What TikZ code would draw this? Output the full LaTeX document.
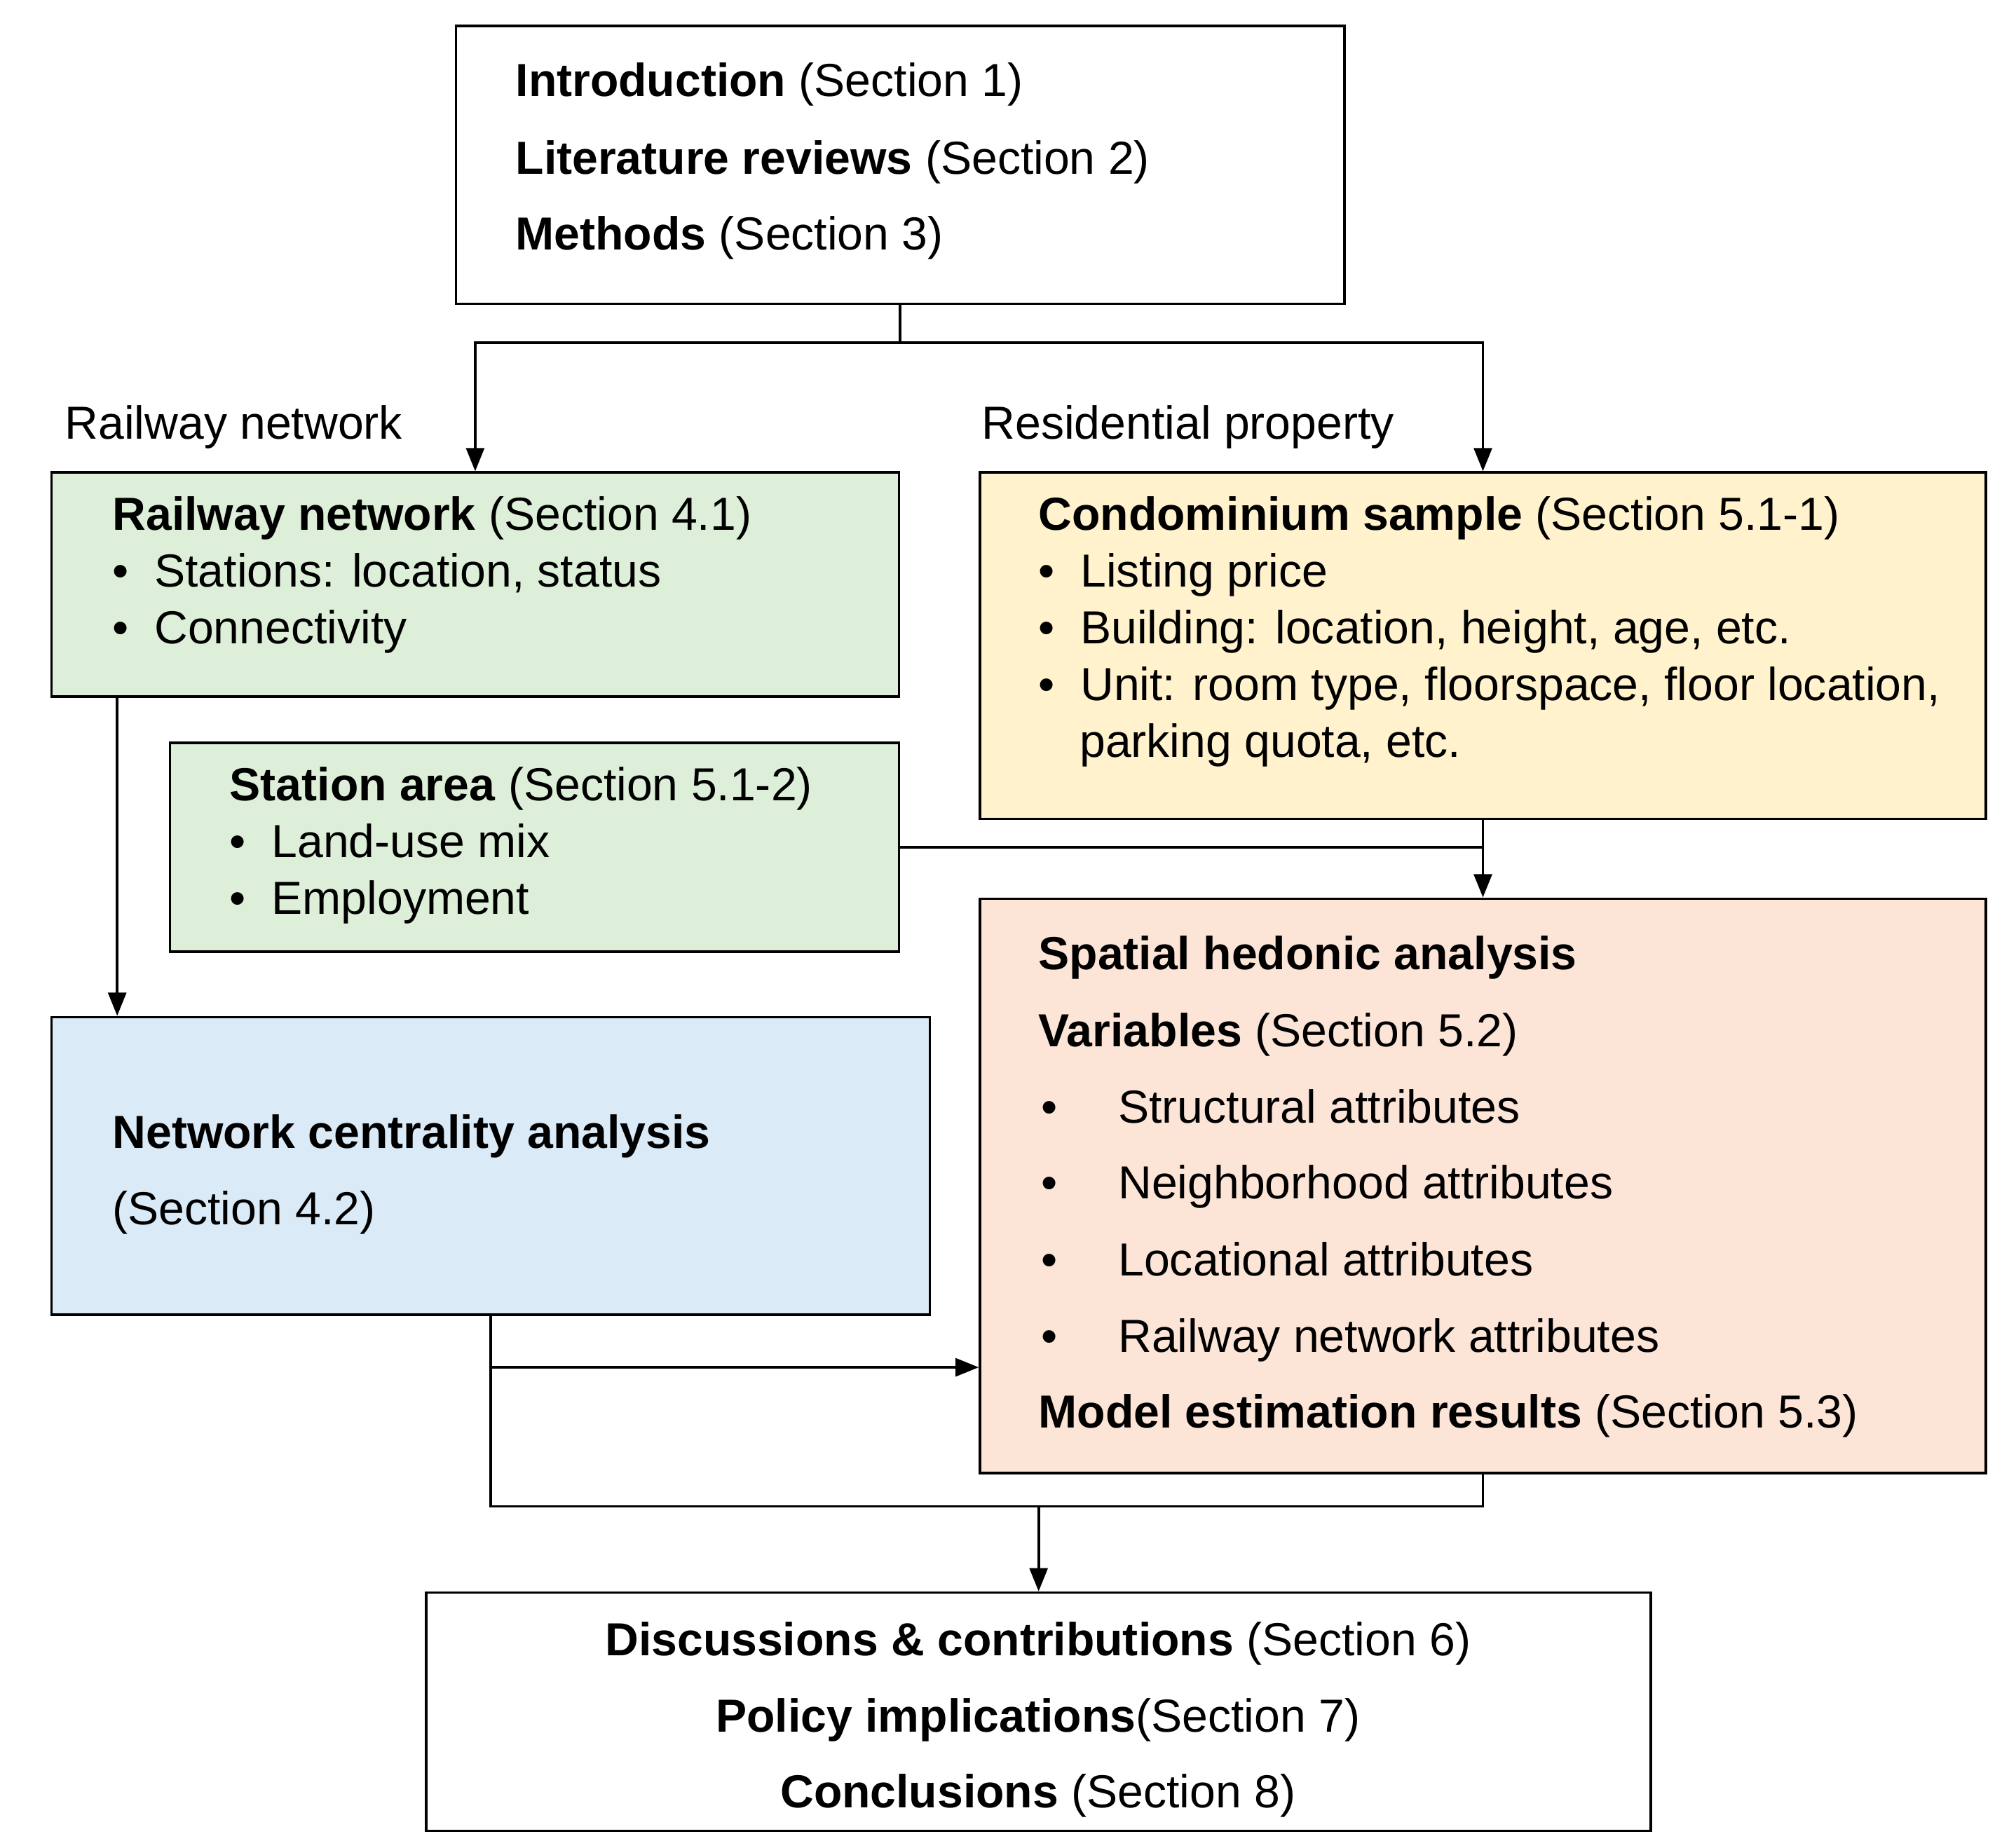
\documentclass[tikz,border=0pt]{standalone}
\usepackage{fontspec}
\setmainfont{Liberation Sans}
\usetikzlibrary{arrows.meta,calc}
\definecolor{greenbox}{RGB}{221,239,216}
\definecolor{yellowbox}{RGB}{255,242,204}
\definecolor{bluebox}{RGB}{218,234,247}
\definecolor{orangebox}{RGB}{252,228,214}
\tikzset{
  box/.style={draw, line width=1pt, inner sep=0pt},
  txt/.style={anchor=west, inner sep=0pt, text height=13pt, text depth=4pt, font=\fontsize{18}{21}\selectfont},
  ctxt/.style={anchor=center, inner sep=0pt, text height=13pt, text depth=4pt, font=\fontsize{18}{21}\selectfont},
  link/.style={line width=1pt},
  arr/.style={link, -{Triangle[length=9pt,width=7pt]}}
}
\begin{document}
\begin{tikzpicture}[x=0.5pt,y=-0.5pt]
\useasboundingbox (0,0) rectangle (1560,1435);

% boxes
\node[box, minimum width=345pt, minimum height=108pt] (top) at (699,128) {};
\node[box, fill=greenbox, minimum width=329pt, minimum height=87pt] (rail) at (369,454) {};
\node[box, fill=yellowbox, minimum width=390.5pt, minimum height=134.5pt] (condo) at (1151.5,501.5) {};
\node[box, fill=greenbox, minimum width=283pt, minimum height=81pt] (station) at (415,658) {};
\node[box, fill=orangebox, minimum width=390.5pt, minimum height=223pt] (spatial) at (1151.5,921) {};
\node[box, fill=bluebox, minimum width=341pt, minimum height=115.5pt] (net) at (381,905.5) {};
\node[box, minimum width=475.5pt, minimum height=92.5pt] (bottom) at (806.5,1329.5) {};

% texts
\node[txt] (t1) at (400,66) {\textbf{Introduction} (Section 1)};
\node[txt] (t2) at (400,126) {\textbf{Literature reviews} (Section 2)};
\node[txt] (t3) at (400,185) {\textbf{Methods} (Section 3)};

\node[txt] (lrail) at (50,332) {Railway network};
\node[txt] (lres) at (762,332) {Residential property};

\node[txt] (r1) at (87,403) {\textbf{Railway network} (Section 4.1)};
\node[txt] (r2) at (87,447) {•\hspace{10pt}Stations: location, status};
\node[txt] (r3) at (87,491) {•\hspace{10pt}Connectivity};

\node[txt] (c1) at (806,403) {\textbf{Condominium sample} (Section 5.1-1)};
\node[txt] (c2) at (806,447) {•\hspace{10pt}Listing price};
\node[txt] (c3) at (806,491) {•\hspace{10pt}Building: location, height, age, etc.};
\node[txt] (c4) at (806,535) {•\hspace{10pt}Unit: room type, floorspace, floor location,};
\node[txt] (c5) at (838,579) {parking quota, etc.};

\node[txt] (s1) at (178,613) {\textbf{Station area} (Section 5.1-2)};
\node[txt] (s2) at (178,657) {•\hspace{10pt}Land-use mix};
\node[txt] (s3) at (178,701) {•\hspace{10pt}Employment};

\node[txt] (n1) at (87,883) {\textbf{Network centrality analysis}};
\node[txt] (n2) at (87,942) {(Section 4.2)};

\node[txt] (h1) at (806,744) {\textbf{Spatial hedonic analysis}};
\node[txt] (h2) at (806,804) {\textbf{Variables} (Section 5.2)};
\foreach \y/\t [count=\i] in {863/Structural attributes,922/Neighborhood attributes,982/Locational attributes,1041/Railway network attributes}
  {\node[txt] (hb\i) at (808,\y) {•}; \node[txt] (ht\i) at (868,\y) {\t};}
\node[txt] (h7) at (806,1100) {\textbf{Model estimation results} (Section 5.3)};

\node[ctxt] (b1) at (806,1277) {\textbf{Discussions \& contributions} (Section 6)};
\node[ctxt] (b2) at (806,1336) {\textbf{Policy implications}(Section 7)};
\node[ctxt] (b3) at (806,1395) {\textbf{Conclusions} (Section 8)};

% connectors
\coordinate (split) at ($(top.south)+(0,29)$);
\draw[link] (top.south) -- (split);
\draw[arr] (split) -| (rail.north);
\draw[arr] (split) -| (condo.north);
\draw[arr] (condo.south) -- (spatial.north);
\draw[link] (station.east) -- (station.east -| condo.south);
\coordinate (raildown) at ($(rail.south west)+(52,0)$);
\draw[arr] (raildown) -- (raildown |- net.north);
\coordinate (netdown) at ($(net.south west)+(342,0)$);
\coordinate (netmid) at ($(netdown)+(0,40)$);
\coordinate (netlow) at ($(netdown)+(0,148)$);
\draw[link] (netdown) -- (netlow) -| (spatial.south);
\draw[arr] (netmid) -- (netmid -| spatial.west);
\draw[arr] (netlow -| bottom.north) -- (bottom.north);
\end{tikzpicture}
\end{document}
